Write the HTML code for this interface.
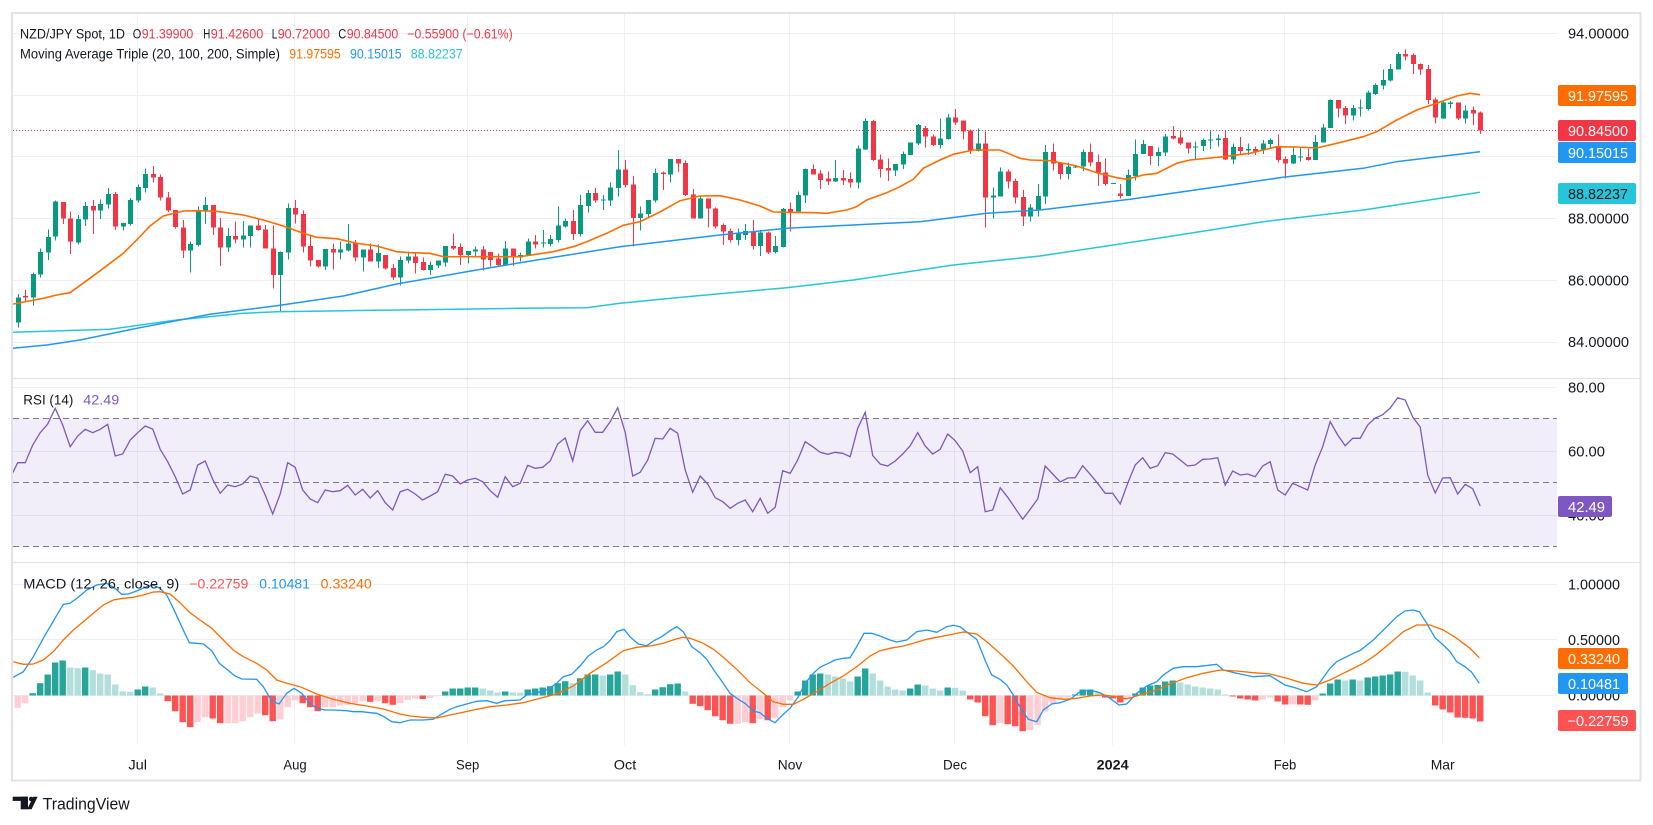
<!DOCTYPE html>
<html>
<head>
<meta charset="utf-8">
<style>
html,body{margin:0;padding:0;background:#fff;}
body{width:1653px;height:825px;overflow:hidden;}
svg{display:block;}
text{font-family:"Liberation Sans",Arial,sans-serif;}
</style>
</head>
<body>
<svg id="chart" xmlns="http://www.w3.org/2000/svg" width="1653" height="825" viewBox="0 0 1653 825">
<defs>
<clipPath id="cp1"><rect x="13" y="14" width="1544" height="364"/></clipPath>
<clipPath id="cp2"><rect x="13" y="379" width="1544" height="183"/></clipPath>
<clipPath id="cp3"><rect x="13" y="563" width="1544" height="182"/></clipPath>
</defs>
<rect x="0" y="0" width="1653" height="825" fill="#ffffff"/>

<!-- grid -->
<g stroke="#eeeff3" stroke-width="1">
<line x1="137.5" y1="14" x2="137.5" y2="745"/>
<line x1="294.5" y1="14" x2="294.5" y2="745"/>
<line x1="467.5" y1="14" x2="467.5" y2="745"/>
<line x1="624.5" y1="14" x2="624.5" y2="745"/>
<line x1="789.5" y1="14" x2="789.5" y2="745"/>
<line x1="954.5" y1="14" x2="954.5" y2="745"/>
<line x1="1112.5" y1="14" x2="1112.5" y2="745"/>
<line x1="1284.5" y1="14" x2="1284.5" y2="745"/>
<line x1="1442.5" y1="14" x2="1442.5" y2="745"/>
<line x1="13" y1="33.5" x2="1557" y2="33.5"/>
<line x1="13" y1="95.5" x2="1557" y2="95.5"/>
<line x1="13" y1="156.5" x2="1557" y2="156.5"/>
<line x1="13" y1="218.5" x2="1557" y2="218.5"/>
<line x1="13" y1="280.5" x2="1557" y2="280.5"/>
<line x1="13" y1="342.5" x2="1557" y2="342.5"/>
<line x1="13" y1="387.5" x2="1557" y2="387.5"/>
<line x1="13" y1="451.5" x2="1557" y2="451.5"/>
<line x1="13" y1="515.5" x2="1557" y2="515.5"/>
<line x1="13" y1="584.5" x2="1557" y2="584.5"/>
<line x1="13" y1="639.5" x2="1557" y2="639.5"/>
<line x1="13" y1="695.5" x2="1557" y2="695.5"/>
</g>

<!-- RSI band -->
<rect x="13" y="418.5" width="1544" height="128" fill="#7e57c2" fill-opacity="0.1"/>
<g stroke="#787b86" stroke-width="1" stroke-dasharray="6,4">
<line x1="13" y1="418.5" x2="1557" y2="418.5"/>
<line x1="13" y1="482.5" x2="1557" y2="482.5"/>
<line x1="13" y1="546.5" x2="1557" y2="546.5"/>
</g>

<!-- price pane -->
<g clip-path="url(#cp1)">
<g id="candles" shape-rendering="crispEdges"></g>
<polyline fill="none" stroke="#26c6da" stroke-width="1.5" points="10,332.3 110,329.3 176.7,320 243.3,313.3 276.7,311.7 343.3,310.7 520,308.3 586.7,307.7 620,303.3 653.3,300 686.7,296.7 786.7,287.7 853.3,280 953.3,265 1040,256 1146.7,240 1263.3,221.7 1363.3,210 1480,192.3"/>
<polyline fill="none" stroke="#2196f3" stroke-width="1.5" points="13,348.3 46.7,345 80,340 136.7,328.3 210,314.3 276.7,305.7 343.3,296 396.7,284 476.7,270 520,262.7 620,246.7 720,235 786.7,228.3 853,225 920,221.7 986.7,213.3 1040,210 1130,199.3 1230,185 1283,177.3 1363,168.3 1396.7,161.7 1480,151.7"/>
<polyline fill="none" stroke="#ff6d00" stroke-width="1.6" points="10,304 13.3,304 43.3,298.3 56.7,295 70,292.7 96.7,273.3 123.3,253.3 136.7,240 150,226 163.3,216 183.3,211 196.7,210.7 216.7,211.3 243.3,215 263.3,220 283.3,226 303.3,233.3 316.7,237.3 336.7,238.7 356.7,243.3 376.7,246 396.7,251.7 410,252.7 430,253.3 443.3,256.7 520,256.7 553.3,251.7 573.3,246.7 586.7,241.7 606.7,233.3 623.3,225.3 640,221.7 660,212 680,200.7 700,196 720,195.7 740,200 760,206 773.3,212 786.7,212.3 813.3,212.7 826.7,213.3 846.7,210 856.7,206.7 866.7,200 886.7,192.7 900,186.7 913.3,179.3 923.3,168.3 940,160 953.3,154.3 973.3,150 1000,150 1020,158.3 1030,160 1050,160.7 1076.7,166 1096.7,172.7 1116.7,177.7 1126.7,179.3 1143.3,175 1156.7,173.3 1176.7,163.3 1190,160 1223.3,156.7 1250,153.3 1276.7,146.7 1296.7,147 1316.7,148 1336.7,143.3 1363.3,136.7 1376.7,131.7 1396.7,120 1416.7,110 1436.7,103.3 1456.7,96 1470,93.3 1480,94.7"/>
<line x1="13" y1="130.5" x2="1557" y2="130.5" stroke="#f23645" stroke-width="1" stroke-dasharray="1,2"/>
</g>

<!-- RSI pane -->
<g clip-path="url(#cp2)">
<polyline id="rsi" fill="none" stroke="#7e57c2" stroke-width="1.3" points=""/>
</g>

<!-- MACD pane -->
<g clip-path="url(#cp3)">
<g id="hist"></g>
<polyline fill="none" stroke="#2196f3" stroke-width="1.3" points="13.3,677.3 23.3,671.7 33.3,656.7 43.3,638.3 55,618.3 63.3,604.3 70,603.3 78.3,597.3 86.7,590 96.7,585 106.7,583.3 115,588.3 121.7,594.3 128.3,594 136.7,591 145,587.3 153.3,585 160,588.3 166.7,595 173.3,608.3 181.7,626.7 189.3,642.7 196.7,643.3 203.3,644 211.7,650.7 219.3,663.3 226.7,669.3 235,676 241.7,679 256.7,679.3 263.3,686.7 271.7,701 279,704 286.7,693.3 294,688.3 301.7,693.3 309.3,702.7 316.7,708.3 325,710 333.3,710 346.7,710.7 353.3,711.7 361.7,711.7 370,712.7 376.7,713.3 384,716.7 391.7,721.7 400,722.7 410,720 423.3,720 433.3,719.3 440,715 450,709.3 456.7,706.7 466.7,704 476.7,701.3 486.7,700.7 496.7,703.3 505,700.7 520,700 526.7,695 536.7,692.7 546.7,690 556.7,683.3 563.3,676.7 571.7,674.3 580,666 588.3,656 596.7,650 603.3,646.7 610,640.7 616.7,631.7 624,629.3 630,636.7 638.3,644 646.7,645.7 655,640 661.7,636.7 670,630.7 676.7,626.7 683.3,631.7 691.7,646.7 700,652.7 706.7,659.3 715,671.7 723.3,683.3 730,693.3 738.3,699.3 745,703.3 753.3,711 760,712.7 766.7,718.3 775,722.7 783.3,714.3 790,708.3 798.3,696.7 805,683.3 813.3,673.3 820,667.3 828.3,663.3 835,660 843.3,658.3 850,657.7 856.7,646.7 864,633.3 871.7,633.3 880,636 890,640 896.7,642 906.7,640 916.7,631.7 926.7,630 936.7,632.3 946.7,626.7 953.3,625.3 960,626.7 968.3,633.3 976.7,639.3 985,660 991.7,675 1000,679.3 1006.7,685 1013.3,695 1021.7,710 1028.3,719.3 1036.7,721.7 1043.3,710 1051.7,704 1060,702.7 1070,699.3 1080,691.7 1090,690 1100,692.7 1110,698.3 1119,705 1126.7,704 1136.7,693.3 1146.7,686 1156.7,681.7 1163.3,675 1173.3,668.3 1183.3,666.7 1196.7,666.7 1216.7,664.3 1223.3,670 1236.7,673.3 1253.3,676.7 1270,675.7 1285,685 1296.7,688.3 1306.7,691.7 1316.7,686.7 1330,668.3 1336.7,661.7 1346.7,656.7 1353.3,653.3 1360,650.5 1373.3,640 1386.7,626.7 1396.7,616.7 1405,611 1413.3,610 1419.3,611.7 1426.7,623.3 1435,637.7 1443.3,645 1450,651.7 1456.7,661.7 1465,666.7 1471.7,672.3 1479.3,683.3"/>
<polyline fill="none" stroke="#ff6d00" stroke-width="1.3" points="13.3,661.7 23.3,664.3 33.3,664 43.3,660 53.3,651.7 63.3,640 73.3,630 83.3,621.7 93.3,613.3 103.3,605 113.3,600 123.3,598.3 133.3,597.3 143.3,595 153.3,592 160,591.7 170,594 180,602.7 190,612.7 200,620 211.7,628.3 223.3,640 233.3,650 243.3,656.7 256.7,663.3 266.7,670 276.7,680 286.7,683.3 300,686.7 316.7,694 333.3,699.3 350,703.3 366.7,706 383.3,709 400,714 410,716 423.3,717.3 436.7,718 450,715 463.3,712.3 476.7,709.3 490,706.7 506.7,705 523.3,702.7 540,698.3 556.7,694 573.3,686 590,673.3 606.7,662.7 623.3,650.7 636.7,647.3 650,646 663.3,643.3 676.7,638.7 683.3,637.3 690,638.3 703.3,643.3 713.3,649.3 723.3,657.3 736.7,669.3 750,682.7 763.3,693.3 773.3,701.7 783.3,704.3 793.3,704.3 803.3,699.3 816.7,691.7 830,683.3 843.3,676 856.7,666.7 870,656 880,650.7 890,648.3 903.3,646 913.3,643.3 926.7,639.3 940,636.7 953.3,634 963.3,632 976.7,634 986.7,641.7 1000,653.3 1013.3,666 1026.7,681.7 1036.7,692.3 1050,697.7 1063.3,699.3 1076.7,698.3 1090,696 1103.3,695 1116.7,696.7 1126.7,699 1140,695 1156.7,690 1170,684 1186.7,677.7 1203.3,673.3 1220,670 1236.7,671 1253.3,672.7 1270,674 1286.7,678.3 1303.3,683.3 1316.7,685 1330,680 1343.3,673.3 1350,670 1363.3,663.3 1376.7,654.3 1390,643.3 1403.3,631.7 1416.7,625 1430,625 1443.3,630 1456.7,638.3 1470,648.3 1479.3,657.7"/>
</g>

<!-- separators and frame -->
<line x1="12" y1="378.5" x2="1641" y2="378.5" stroke="#e0e3eb" stroke-width="1.2"/>
<line x1="12" y1="562.5" x2="1641" y2="562.5" stroke="#e0e3eb" stroke-width="1.2"/>
<rect x="12" y="13" width="1628.5" height="767.5" fill="none" stroke="#e0e3eb" stroke-width="2"/>

<!-- legend -->
<g font-size="13.5" fill="#131722">
<text x="20" y="38.3" textLength="105" lengthAdjust="spacingAndGlyphs">NZD/JPY Spot, 1D</text>
<text x="132.7" y="38.3" textLength="8.5" lengthAdjust="spacingAndGlyphs">O</text>
<text x="141.7" y="38.3" textLength="51.6" lengthAdjust="spacingAndGlyphs" fill="#f23645">91.39900</text>
<text x="203.3" y="38.3" textLength="7" lengthAdjust="spacingAndGlyphs">H</text>
<text x="210.7" y="38.3" textLength="52.6" lengthAdjust="spacingAndGlyphs" fill="#f23645">91.42600</text>
<text x="271.7" y="38.3" textLength="5.6" lengthAdjust="spacingAndGlyphs">L</text>
<text x="277.7" y="38.3" textLength="52.3" lengthAdjust="spacingAndGlyphs" fill="#f23645">90.72000</text>
<text x="338.3" y="38.3" textLength="8" lengthAdjust="spacingAndGlyphs">C</text>
<text x="346.7" y="38.3" textLength="51.6" lengthAdjust="spacingAndGlyphs" fill="#f23645">90.84500</text>
<text x="407.3" y="38.3" textLength="105.4" lengthAdjust="spacingAndGlyphs" fill="#f23645">−0.55900 (−0.61%)</text>
<text x="20" y="58.3" textLength="260" lengthAdjust="spacingAndGlyphs">Moving Average Triple (20, 100, 200, Simple)</text>
<text x="289.3" y="58.3" textLength="51.4" lengthAdjust="spacingAndGlyphs" fill="#ff6d00">91.97595</text>
<text x="350" y="58.3" textLength="51.7" lengthAdjust="spacingAndGlyphs" fill="#2196f3">90.15015</text>
<text x="410.7" y="58.3" textLength="52" lengthAdjust="spacingAndGlyphs" fill="#26c6da">88.82237</text>
<text x="23.3" y="404.3" textLength="50" lengthAdjust="spacingAndGlyphs">RSI (14)</text>
<text x="83.3" y="404.3" textLength="36" lengthAdjust="spacingAndGlyphs" fill="#7e57c2">42.49</text>
<text x="23.3" y="588.3" textLength="156" lengthAdjust="spacingAndGlyphs">MACD (12, 26, close, 9)</text>
<text x="189.3" y="588.3" textLength="59" lengthAdjust="spacingAndGlyphs" fill="#ff5252">−0.22759</text>
<text x="259.3" y="588.3" textLength="50.7" lengthAdjust="spacingAndGlyphs" fill="#2196f3">0.10481</text>
<text x="320.7" y="588.3" textLength="51" lengthAdjust="spacingAndGlyphs" fill="#ff6d00">0.33240</text>
</g>

<!-- axis labels -->
<g font-size="14.5" fill="#131722">
<text x="1568" y="38.3" textLength="61" lengthAdjust="spacingAndGlyphs">94.00000</text>
<text x="1568" y="223.5" textLength="61" lengthAdjust="spacingAndGlyphs">88.00000</text>
<text x="1568" y="285.3" textLength="61" lengthAdjust="spacingAndGlyphs">86.00000</text>
<text x="1568" y="347.2" textLength="61" lengthAdjust="spacingAndGlyphs">84.00000</text>
<text x="1568" y="392.3" textLength="37" lengthAdjust="spacingAndGlyphs">80.00</text>
<text x="1568" y="456.3" textLength="37" lengthAdjust="spacingAndGlyphs">60.00</text>
<text x="1568" y="520.3" textLength="37" lengthAdjust="spacingAndGlyphs">40.00</text>
<text x="1568" y="589.3" textLength="52" lengthAdjust="spacingAndGlyphs">1.00000</text>
<text x="1568" y="644.8" textLength="52" lengthAdjust="spacingAndGlyphs">0.50000</text>
<text x="1568" y="700.3" textLength="52" lengthAdjust="spacingAndGlyphs">0.00000</text>
</g>

<!-- value label boxes -->
<g font-size="14.5">
<rect x="1558" y="85" width="78" height="21" rx="2" fill="#ff6d00"/>
<text x="1568" y="100.8" textLength="60" lengthAdjust="spacingAndGlyphs" fill="#ffffff">91.97595</text>
<rect x="1558" y="120" width="78" height="21" rx="2" fill="#f23645"/>
<text x="1568" y="135.8" textLength="60" lengthAdjust="spacingAndGlyphs" fill="#ffffff">90.84500</text>
<rect x="1558" y="142" width="78" height="21" rx="2" fill="#2196f3"/>
<text x="1568" y="157.8" textLength="60" lengthAdjust="spacingAndGlyphs" fill="#ffffff">90.15015</text>
<rect x="1558" y="183" width="78" height="21" rx="2" fill="#26c6da"/>
<text x="1568" y="198.8" textLength="60" lengthAdjust="spacingAndGlyphs" fill="#131722">88.82237</text>
<rect x="1558" y="496" width="54" height="21" rx="2" fill="#7e57c2"/>
<text x="1568" y="511.8" textLength="37" lengthAdjust="spacingAndGlyphs" fill="#ffffff">42.49</text>
<rect x="1558" y="648" width="70" height="21" rx="2" fill="#ff6d00"/>
<text x="1568" y="663.8" textLength="52" lengthAdjust="spacingAndGlyphs" fill="#ffffff">0.33240</text>
<rect x="1558" y="673" width="70" height="21" rx="2" fill="#2196f3"/>
<text x="1568" y="688.8" textLength="52" lengthAdjust="spacingAndGlyphs" fill="#ffffff">0.10481</text>
<rect x="1558" y="710" width="78" height="21" rx="2" fill="#ff5252"/>
<text x="1567.5" y="725.8" textLength="61" lengthAdjust="spacingAndGlyphs" fill="#ffffff">−0.22759</text>
</g>

<!-- time axis -->
<g font-size="14" fill="#131722" text-anchor="middle">
<text x="137.7" y="769.3" textLength="18.7" lengthAdjust="spacingAndGlyphs">Jul</text>
<text x="295" y="769.3" textLength="23.3" lengthAdjust="spacingAndGlyphs">Aug</text>
<text x="467.7" y="769.3" textLength="23.3" lengthAdjust="spacingAndGlyphs">Sep</text>
<text x="625" y="769.3" textLength="22.5" lengthAdjust="spacingAndGlyphs">Oct</text>
<text x="790" y="769.3" textLength="24.5" lengthAdjust="spacingAndGlyphs">Nov</text>
<text x="955" y="769.3" textLength="24" lengthAdjust="spacingAndGlyphs">Dec</text>
<text x="1112.7" y="769.3" font-weight="bold" textLength="32" lengthAdjust="spacingAndGlyphs">2024</text>
<text x="1285" y="769.3" textLength="22.5" lengthAdjust="spacingAndGlyphs">Feb</text>
<text x="1442.7" y="769.3" textLength="24" lengthAdjust="spacingAndGlyphs">Mar</text>
</g>

<!-- TradingView logo -->
<g fill="#131722">
<rect x="12.7" y="796.7" width="15.3" height="4.2"/>
<rect x="20.7" y="796.7" width="7.3" height="12.6"/>
<circle cx="31.2" cy="799" r="2.3"/>
<polygon points="33.2,796.7 37.6,796.7 31.6,809.3 27.2,809.3"/>
<text x="42.7" y="809.3" font-size="16.5" textLength="87" lengthAdjust="spacingAndGlyphs">TradingView</text>
</g>
</svg>

<script>
(function(){
var NS='http://www.w3.org/2000/svg';
function el(tag,attrs,parent){var e=document.createElementNS(NS,tag);for(var k in attrs)e.setAttribute(k,attrs[k]);parent.appendChild(e);return e;}
function X(i){return 137.7+7.5*i;}
var cg=document.getElementById('candles');
var segs=[
[-16,140,"g,472,548,462,562 r,468,472,450,485 g,402,473,398,497 g,336,404,326,412 g,291,338,268,360 g,185,290,182,302 r,186,236,186,252 r,235,305,215,342 g,237,308,225,314 g,198,238,186,258 r,198,212,180,282 g,192,212,178,237 g,162,194,144,206 r,162,260,156,270 g,249,260,249,272 g,180,252,174,256 "+
"g,141,182,134,188 g,102,144,86,158 r,102,113,78,128 r,111,173,104,182 r,172,212,156,216 r,210,261,210,265 r,262,332,240,354 g,312,332,305,398 g,213,315,200,320 g,195,215,171,252 "+
"r,195,263,195,285 r,262,323,234,378 g,288,323,264,336 r,288,298,245,311 g,286,298,243,323 g,256,288,256,323 r,256,270,236,272 r,268,326,255,326 r,325,405,256,446 g,336,405,334,518 "+
"g,204,338,190,358 r,204,224,180,250 r,222,320,212,338 r,318,362,285,380 r,360,380,360,383 g,327,380,327,390 r,327,338,310,388 g,329,338,305,358 g,311,332,252,335 r,311,352,300,365 "+
"g,329,352,329,395 r,329,365,310,365 g,339,365,313,384 r,345,386,345,388 r,384,412,372,420 g,360,412,350,436 g,350,362,335,370 r,350,369,340,400 r,366,390,352,392 g,375,390,365,405 "+
"g,362,377,362,384 g,318,368,318,380 r,318,326,280,330 r,321,345,310,375 g,333,345,333,370 g,329,334,320,350 r,329,358,318,392 r,336,360,336,380 r,356,375,340,378 g,326,375,303,378 r,326,352,326,378 g,345,352,338,365"],
[52,100,"g,425,465,415,467 r,425,434,405,445 g,428,431,390,442 g,417,432,405,440 g,377,420,320,428 g,363,380,355,382 r,363,402,330,420 g,315,402,285,410 g,279,318,270,338 r,279,302,264,308 "+
"g,299,301,285,330 g,262,302,248,318 g,208,264,150,290 r,208,255,180,262 r,253,354,228,440 g,340,354,320,392 g,300,342,300,356 g,219,302,205,308 r,218,222,215,270 g,177,224,177,248 "+
"r,177,190,177,216 r,189,285,182,288 r,283,356,267,356 g,296,356,290,356 r,296,326,296,383 r,325,380,322,385 r,375,395,370,435 r,393,420,385,428 g,398,420,385,437 g,393,405,372,420 "+
"r,393,438,360,448 g,398,438,390,468 r,398,458,395,462 g,438,456,408,461 g,327,441,324,442 r,327,335,308,395 g,285,335,275,335 g,207,287,205,309 r,207,224,193,224 r,221,240,210,267 "+
"r,236,245,215,255 g,234,245,180,246 r,234,242,210,255 r,237,248,217,262 g,145,248,137,266 g,63,148,55,150 r,63,180,60,183 r,178,207,163,233 r,204,212,175,243 g,192,212,192,228 "+
"g,162,194,155,207 g,128,165,128,165 g,75,131,72,135 r,84,110,78,143 r,109,135,103,138 g,115,135,55,145 g,52,117,42,118 r,52,68,27,75 r,61,95,61,118 r,92,152,88,162 "+
"g,130,153,85,155 r,130,293,95,383 g,286,293,262,355 g,214,290,203,290 r,214,245,208,265 r,243,292,235,310 r,291,350,270,378 g,323,350,312,365"],
[120,40,"g,468,512,432,530 g,336,470,315,492 r,336,370,310,392 r,368,402,368,418 g,380,402,367,418 g,379,383,379,384 g,336,380,328,393 r,336,368,310,380 r,366,398,343,438 r,397,432,355,437 "+
"g,429,432,429,432 r,460,468,432,475 g,405,468,388,468 g,342,408,298,422 g,312,342,300,342 r,318,348,318,375 g,336,348,322,378 g,290,338,282,348 r,288,295,258,298 r,292,310,272,315 "+
"r,308,325,308,340 g,319,323,305,360 g,300,318,296,333 g,299,302,272,327 g,296,300,283,320 r,294,359,272,360 g,321,359,310,372 r,321,333,291,343 g,327,332,310,345 r,327,335,320,345 "+
"g,310,330,300,342 g,300,312,296,325 r,318,360,283,368 r,357,370,350,415 g,345,370,318,372 g,350,352,322,365 r,351,360,325,362 g,306,360,285,360 g,262,308,252,308 g,180,264,178,264 "+
"r,180,205,180,232 r,204,226,198,252 g,204,226,195,242 g,203,205,178,230 g,158,207,152,212 g,135,162,130,165 g,120,136,88,148 g,87,122,72,125 g,42,89,36,89 r,42,50,28,62 "+
"r,45,72,40,102 r,72,89,70,105 r,87,180,75,192 r,178,232,172,250 g,188,236,183,237 g,188,192,183,205 r,188,236,188,240 g,211,236,196,250 r,210,220,200,255 r,218,272,215,282"]
];
segs.forEach(function(s){
  var i=s[0],off=s[1];
  s[2].trim().split(/\s+/).forEach(function(tok){
    var p=tok.split(',');
    var c=p[0]==='g'?'#089981':'#f23645';
    var bt=off+(+p[1])/3,bb=off+(+p[2])/3,wt=off+(+p[3])/3,wb=off+(+p[4])/3;
    var xc=Math.round(X(i));
    el('rect',{x:xc,y:wt.toFixed(2),width:1,height:Math.max(wb-wt,1).toFixed(2),fill:c},cg);
    el('rect',{x:xc-2,y:bt.toFixed(2),width:5,height:Math.max(bb-bt,1).toFixed(2),fill:c},cg);
    i++;
  });
});

var H=[-12.3,-7.7,2.3,12.3,21,33,35,28,27.3,28,25.3,22,21,11,4,3.8,
6,9,8,2,-5.7,-15.7,-26.7,-31.7,-26.7,-21.7,
-23,-27.7,-27.7,-27.7,-25.7,-21.7,-18,-19.7,-25.7,-24,
-11.7,-4.7,-7.7,-11.7,-15.7,-11.7,-11.7,-10,-9.3,-7.7,
-5.7,-6.3,-5.7,-7.7,-9.3,-7.7,-4.3,-3.3,-3.5,-2.3,
-0.7,4,7,7,8,8,7,5,3,4,
3,2.8,6,7,8,9.3,12.3,14.3,12.3,17.3,
21,21,20,21,24,21,10.3,3.3,1.3,6,
8.3,11.3,12,4,-8.3,-10.7,-14.7,-20.7,-24.7,-28.3,
-28.3,-26.7,-27.7,-23.7,-24.7,-22.7,-11.7,-5,4,15,
21,22,21,19,17,14,19,27,22,15,
9,6,5,7,11,10,7,5,8,7.7,
5,-4,-7,-20.7,-29.7,-27.7,-28.7,-30.7,-35.7,-34.7,
-29.7,-16,-8,-4,-2,1,6,6,3,-2,
-3,-7,-3,2,8,10,10.5,14,15,13,
11,9,8,7,6,1,-1,-3,-4,-5,
-4,-2,-6,-9,-8.7,-9,-9.3,-5,2,12,
16,15,16,15,18,19,20,21,24,23.8,
20,15,3,-10,-14,-17,-22,-22.3,-23,-26];
var hg=document.getElementById('hist');
var prev=null;
H.forEach(function(v,k){
  var i=k-16,col;
  if(v>=0){col=(prev===null||v>=prev)?'#26a69a':'#b2dfdb';}
  else{col=(prev===null)?'#ffcdd2':(v<prev?'#ff5252':'#ffcdd2');}
  var x=X(i)-3.2;
  var y=v>=0?695.5-v:695.5;
  el('rect',{x:x.toFixed(2),y:y.toFixed(2),width:6.4,height:Math.max(Math.abs(v),0.6).toFixed(2),fill:col},hg);
  prev=v;
});

var R=[478,
462.7,462.7,445,432.7,424,408.3,425,446.7,436,429.3,432.7,429.3,424.3,456,454,440,
432.7,426,429,449.3,461.7,476.7,494,490,465,461,
479.3,493.3,485,486.7,484,476,478.3,495,514,494,
462.7,467.3,490,499,502.7,490,491.7,490.7,485.3,495,
489.3,498,490.7,502.7,510,491.7,489.3,494,500,496,
491.7,474.3,476,484,480,478.3,481.7,490.7,497.3,476.7,
486.7,483.3,465.3,468.3,467.3,461,444,438,461,430.7,
420.7,432.3,432.3,421.7,407.7,432.3,476,472.3,460,438.3,
439,428.3,433.3,470,492.3,476,484,497.7,501.7,508.3,
503.3,500,511.7,498.3,513.3,507.3,470.7,473.3,460,441.7,
446.7,452.3,454.3,452.3,453.3,456.7,428.3,412.3,455.5,464,
466,461,454,445.7,432.7,446,454,449.3,434,440.7,
451,472.7,466.7,511.7,510,487.7,497.3,508.3,519.3,509.3,
499,466,474,482,478,477.7,465.7,474.3,483.3,493.3,
493.3,504,483.3,465,457.7,468.3,465.7,452.7,454,460,
466,465,459.3,459,457.7,485,471,475,474,476.7,
466,461.7,490,495,483.3,486.7,490,465,446.7,421.7,
435,445.7,438.3,438.3,425,418,414.7,408,397.7,400,
417,427,475,493,478,477.7,494,484.3,488.7,506];
var pts=R.map(function(y,k){return X(k-17).toFixed(1)+','+y;}).join(' ');
document.getElementById('rsi').setAttribute('points',pts);
})();
</script>
</body>
</html>
